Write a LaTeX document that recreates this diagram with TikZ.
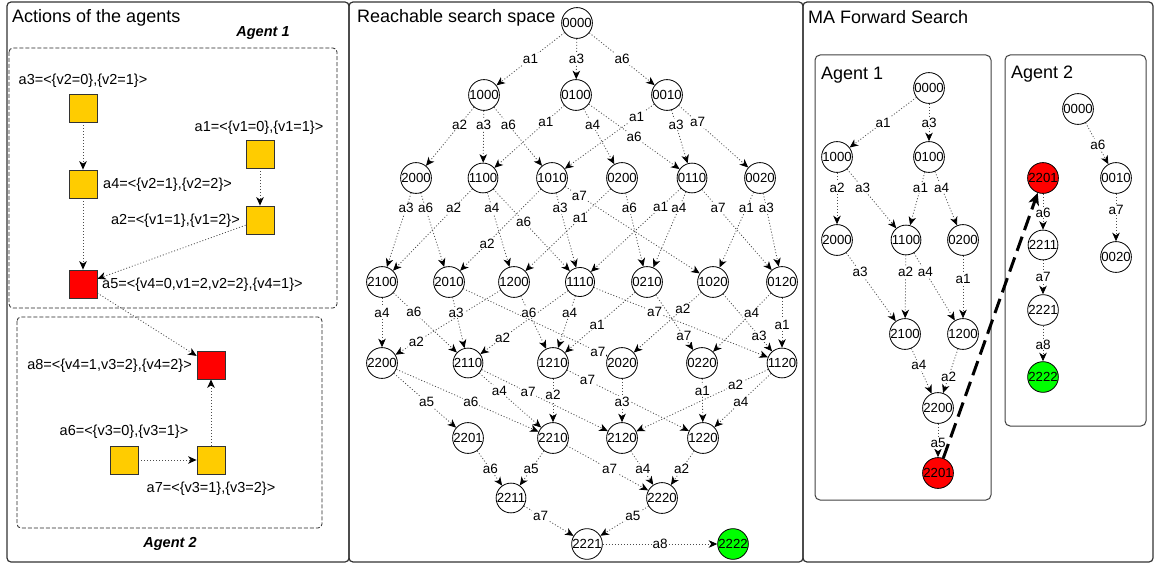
\documentclass[tikz,border=0pt]{standalone}
\usepackage{fontspec}
\setmainfont{Liberation Sans}
\usetikzlibrary{arrows.meta,calc}
\pgfdeclarelayer{back}
\pgfdeclarelayer{edges}
\pgfsetlayers{back,edges,main}
\definecolor{gold}{HTML}{FFCC00}
\definecolor{redd}{HTML}{FF0000}
\definecolor{grn}{HTML}{00FF00}
\newcommand\fs[1]{\fontsize{#1}{#1}\selectfont}
\newcommand\edg[4][0.5]{%
  \begin{pgfonlayer}{edges}\draw[ed] (#2) -- (#3);\end{pgfonlayer}%
  \path (#2.center) -- node[lbl,pos=#1]{#4} (#3.center);}
\newcommand\arr[2]{%
  \begin{pgfonlayer}{edges}\draw[ed] (#1) -- (#2);\end{pgfonlayer}}
\begin{document}
\begin{tikzpicture}[x=1pt,y=-1pt,
  st/.style={circle,draw=black,fill=white,minimum size=29pt,inner sep=0pt,line width=0.8pt,font=\fs{13.2}},
  stred/.style={st,fill=redd},
  stgrn/.style={st,fill=grn},
  sq/.style={rectangle,draw=black!80,fill=gold,minimum size=28pt,inner sep=0pt,line width=0.8pt},
  sqred/.style={sq,fill=redd},
  ed/.style={draw=black!70,line width=0.8pt,dash pattern=on 1pt off 2pt,-{Stealth[length=8.5pt,width=7.5pt,inset=2.5pt,black]}},
  lbl/.style={fill=white,inner sep=0.8pt,font=\fs{13.5}},
  act/.style={inner sep=0pt,font=\fs{14.5}},
  ttl/.style={inner sep=0pt,font=\fs{18},anchor=base west},
  agt/.style={inner sep=0pt,font=\fs{14.5}\bfseries\itshape},
  panel/.style={draw=black!80,line width=1.2pt,rounded corners=4pt},
  grp/.style={draw=black!85,line width=0.8pt,dash pattern=on 4pt off 2pt,rounded corners=4pt},
  box/.style={draw=black!75,line width=1pt,rounded corners=5pt},
  big/.style={line width=3pt,dash pattern=on 15pt off 7pt,-{Stealth[length=12pt,width=11pt,inset=3.5pt]}}
]
\useasboundingbox (0,0) rectangle (1156,564);
\begin{pgfonlayer}{back}
\draw[panel] (7,2) rectangle (349,562);
\draw[panel] (349,2) rectangle (803,562);
\draw[panel] (803,2) rectangle (1153,562);
\draw[grp] (9,48) rectangle (337,308);
\draw[grp] (17,317) rectangle (322,528);
\draw[box] (815,55) rectangle (991,500);
\draw[box] (1005,55) rectangle (1146,426);
\end{pgfonlayer}

% ---------- Panel 1 ----------
\node[ttl] (t1) at (12,23) {Actions of the agents};
\node[agt] (ag1) at (263,33) {Agent 1};
\node[agt] (ag2) at (170,544) {Agent 2};
\node[sq] (s3) at (83,108) {};
\node[sq] (s4) at (83,184) {};
\node[sq] (s1) at (260,154) {};
\node[sq] (s2) at (260,220) {};
\node[sqred] (s5) at (83,284) {};
\node[sqred] (s8) at (211,365) {};
\node[sq] (s6) at (124,460) {};
\node[sq] (s7) at (211,460) {};
\node[act] (l3) at (83,81) {a3=<\{v2=0\},\{v2=1\}>};
\node[act] (l1) at (259,128) {a1=<\{v1=0\},\{v1=1\}>};
\node[act,anchor=west] (l4) at (103,185) {a4=<\{v2=1\},\{v2=2\}>};
\node[act,anchor=east] (l2) at (240,221) {a2=<\{v1=1\},\{v1=2\}>};
\node[act,anchor=west] (l5) at (102,285) {a5=<\{v4=0,v1=2,v2=2\},\{v4=1\}>};
\node[act,anchor=east] (l8) at (192,366) {a8=<\{v4=1,v3=2\},\{v4=2\}>};
\node[act] (l6) at (124,432) {a6=<\{v3=0\},\{v3=1\}>};
\node[act] (l7) at (211,489) {a7=<\{v3=1\},\{v3=2\}>};
\arr{s3}{s4}
\arr{s4}{s5}
\arr{s1}{s2}
\arr{s2}{s5}
\arr{s5}{s8}
\arr{s6}{s7}
\arr{s7}{s8}

% ---------- Panel 2 ----------
\node[ttl] (t2) at (357,23) {Reachable search space};
\node[st] (m0000) at (577,23) {0000};
\node[st] (m1000) at (484,95) {1000};
\node[st] (m0100) at (576,95) {0100};
\node[st] (m0010) at (667,95) {0010};
\node[st] (m2000) at (416,178) {2000};
\node[st] (m1100) at (483,178) {1100};
\node[st] (m1010) at (552,178) {1010};
\node[st] (m0200) at (622,178) {0200};
\node[st] (m0110) at (692,178) {0110};
\node[st] (m0020) at (760,178) {0020};
\node[st] (m2100) at (382,282) {2100};
\node[st] (m2010) at (449,282) {2010};
\node[st] (m1200) at (514,282) {1200};
\node[st] (m1110) at (580,282) {1110};
\node[st] (m0210) at (647,282) {0210};
\node[st] (m1020) at (713,282) {1020};
\node[st] (m0120) at (782,282) {0120};
\node[st] (m2200) at (382,363) {2200};
\node[st] (m2110) at (468,363) {2110};
\node[st] (m1210) at (553,363) {1210};
\node[st] (m2020) at (622,363) {2020};
\node[st] (m0220) at (702,363) {0220};
\node[st] (m1120) at (782,363) {1120};
\node[st] (m2201) at (468,438) {2201};
\node[st] (m2210) at (553,438) {2210};
\node[st] (m2120) at (622,438) {2120};
\node[st] (m1220) at (703,438) {1220};
\node[st] (m2211) at (511,498) {2211};
\node[st] (m2220) at (662,498) {2220};
\node[st] (m2221) at (587,544) {2221};
\node[stgrn] (m2222) at (733,544) {2222};

\edg{m0000}{m1000}{a1}
\edg{m0000}{m0100}{a3}
\edg{m0000}{m0010}{a6}
\edg[.36]{m1000}{m2000}{a2}
\edg[.36]{m1000}{m1100}{a3}
\edg[.36]{m1000}{m1010}{a6}
\edg[.325]{m0100}{m1100}{a1}
\edg[.36]{m0100}{m0200}{a4}
\edg[.5]{m0100}{m0110}{a6}
\edg[.265]{m0010}{m1010}{a1}
\edg[.36]{m0010}{m0110}{a3}
\edg[.33]{m0010}{m0020}{a7}
\edg[.29]{m2000}{m2100}{a3}
\edg[.29]{m2000}{m2010}{a6}
\edg[.29]{m1100}{m2100}{a2}
\edg[.29]{m1100}{m1200}{a4}
\edg[.42]{m1100}{m1110}{a6}
\edg[.63]{m1010}{m2010}{a2}
\edg[.29]{m1010}{m1110}{a3}
\edg[.17]{m1010}{m1020}{a7}
\edg[.385]{m0200}{m1200}{a1}
\edg[.29]{m0200}{m0210}{a6}
\edg[.28]{m0110}{m1110}{a1}
\edg[.29]{m0110}{m0210}{a4}
\edg[.29]{m0110}{m0120}{a7}
\edg[.29]{m0020}{m1020}{a1}
\edg[.29]{m0020}{m0120}{a3}
\edg[.38]{m2100}{m2200}{a4}
\edg[.37]{m2100}{m2110}{a6}
\edg[.38]{m2010}{m2110}{a3}
\edg[.86]{m2010}{m2020}{a7}
\edg[.74]{m1200}{m2200}{a2}
\edg[.38]{m1200}{m1210}{a6}
\edg[.69]{m1110}{m2110}{a2}
\edg[.38]{m1110}{m1210}{a4}
\edg[.37]{m1110}{m1120}{a7}
\edg[.53]{m0210}{m1210}{a1}
\edg[.67]{m0210}{m0220}{a7}
\edg[.33]{m1020}{m2020}{a2}
\edg[.67]{m1020}{m1120}{a3}
\edg[.38]{m0120}{m0220}{a4}
\edg[.53]{m0120}{m1120}{a1}
\edg[.52]{m2200}{m2201}{a5}
\edg[.52]{m2200}{m2210}{a6}
\edg[.37]{m2110}{m2210}{a4}
\edg[.39]{m2110}{m2120}{a7}
\edg[.43]{m1210}{m2210}{a2}
\edg[.23]{m1210}{m1220}{a7}
\edg[.52]{m2020}{m2120}{a3}
\edg[.37]{m0220}{m1220}{a1}
\edg[.29]{m1120}{m2120}{a2}
\edg[.52]{m1120}{m1220}{a4}
\edg[.52]{m2201}{m2211}{a6}
\edg[.52]{m2210}{m2211}{a5}
\edg[.52]{m2210}{m2220}{a7}
\edg[.52]{m2120}{m2220}{a4}
\edg[.52]{m1220}{m2220}{a2}
\edg[.39]{m2211}{m2221}{a7}
\edg[.39]{m2220}{m2221}{a5}
\edg[.5]{m2221}{m2222}{a8}

% ---------- Panel 3 ----------
\node[ttl] (t3) at (808,24) {MA Forward Search};
\node[inner sep=0pt,font=\fs{18},anchor=base west] (b1) at (821,80) {Agent 1};
\node[inner sep=0pt,font=\fs{18},anchor=base west] (b2) at (1011,79) {Agent 2};
\node[st] (p0000) at (929,88) {0000};
\node[st] (p1000) at (837,157) {1000};
\node[st] (p0100) at (929,157) {0100};
\node[st] (p2000) at (837,240) {2000};
\node[st] (p1100) at (906,240) {1100};
\node[st] (p0200) at (963,240) {0200};
\node[st] (p2100) at (905,334) {2100};
\node[st] (p1200) at (963,334) {1200};
\node[st] (p2200) at (938,408) {2200};
\node[stred] (p2201) at (938,473) {2201};
\edg{p0000}{p1000}{a1}
\edg{p0000}{p0100}{a3}
\edg[.37]{p1000}{p2000}{a2}
\edg[.37]{p1000}{p1100}{a3}
\edg[.37]{p0100}{p1100}{a1}
\edg[.37]{p0100}{p0200}{a4}
\edg[.34]{p2000}{p2100}{a3}
\edg[.34]{p1100}{p2100}{a2}
\edg[.34]{p1100}{p1200}{a4}
\edg[.41]{p0200}{p1200}{a1}
\edg[.42]{p2100}{p2200}{a4}
\edg[.58]{p1200}{p2200}{a2}
\edg[.54]{p2200}{p2201}{a5}

\node[st] (q0000) at (1078,109) {0000};
\node[st] (q0010) at (1116,178) {0010};
\node[st] (q0020) at (1116,257) {0020};
\node[stred] (q2201) at (1043,178) {2201};
\node[st] (q2211) at (1043,245) {2211};
\node[st] (q2221) at (1043,310) {2221};
\node[stgrn] (q2222) at (1043,377) {2222};
\edg[.52]{q0000}{q0010}{a6}
\edg[.4]{q0010}{q0020}{a7}
\edg[.52]{q2201}{q2211}{a6}
\edg[.49]{q2211}{q2221}{a7}
\edg[.52]{q2221}{q2222}{a8}

\draw[big] (p2201) -- (q2201);
\end{tikzpicture}
\end{document}
